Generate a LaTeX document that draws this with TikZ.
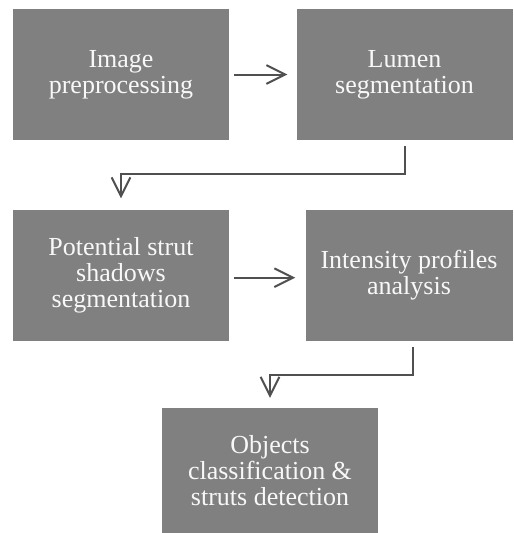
\documentclass[tikz,border=0pt]{standalone}
\usepackage{fontspec}
\setmainfont{Liberation Serif}
\usepackage{tikz}
\usetikzlibrary{arrows.meta,positioning}
\usepackage{xcolor}
\definecolor{boxgray}{RGB}{128,128,128}
\definecolor{linegray}{RGB}{80,80,80}
\definecolor{textwhite}{RGB}{248,248,248}

\begin{document}
\begin{tikzpicture}[>={Straight Barb[length=14pt,width=14pt]},
    stage/.style={fill=boxgray, text=textwhite, align=center, inner sep=0pt,
        minimum width=162pt, minimum height=98.25pt,
        font=\fontsize{19.5}{19.5}\selectfont},
    flow/.style={->, line width=1.5pt, draw=linegray}]
    \useasboundingbox (0,0) rectangle (385.5pt,-399.75pt);
    \node[stage] (pre) at (90.75pt,-55.875pt) {Image\\preprocessing};
    \node[stage, right=50.25pt of pre] (lum) {Lumen\\segmentation};
    \node[stage, below=51.75pt of pre] (pot) {Potential strut\\shadows\\segmentation};
    \node[stage, minimum width=155.25pt, right=57pt of pot] (int) {Intensity profiles\\analysis};
    \node[stage, minimum height=94.5pt, below=50.25pt of pot, xshift=111.75pt] (cls) {Objects\\classification \&\\struts detection};
    \coordinate[below=25.5pt of lum.south] (k1);
    \coordinate[below=25.5pt of int.south, xshift=3pt] (k2);
    \draw[flow, shorten <=3.75pt, shorten >=6.75pt] (pre) -- (lum);
    \draw[flow, shorten <=3.75pt, shorten >=7.5pt] ([yshift=-2pt]pot.east) -- ([yshift=-2pt]int.west);
    \draw[flow, shorten <=4.5pt, shorten >=8.25pt] (lum.south) -- (k1) -| (pot.north);
    \draw[flow, shorten <=4.5pt, shorten >=7.5pt] ([xshift=3pt]int.south) -- (k2) -| (cls.north);
\end{tikzpicture}
\end{document}
